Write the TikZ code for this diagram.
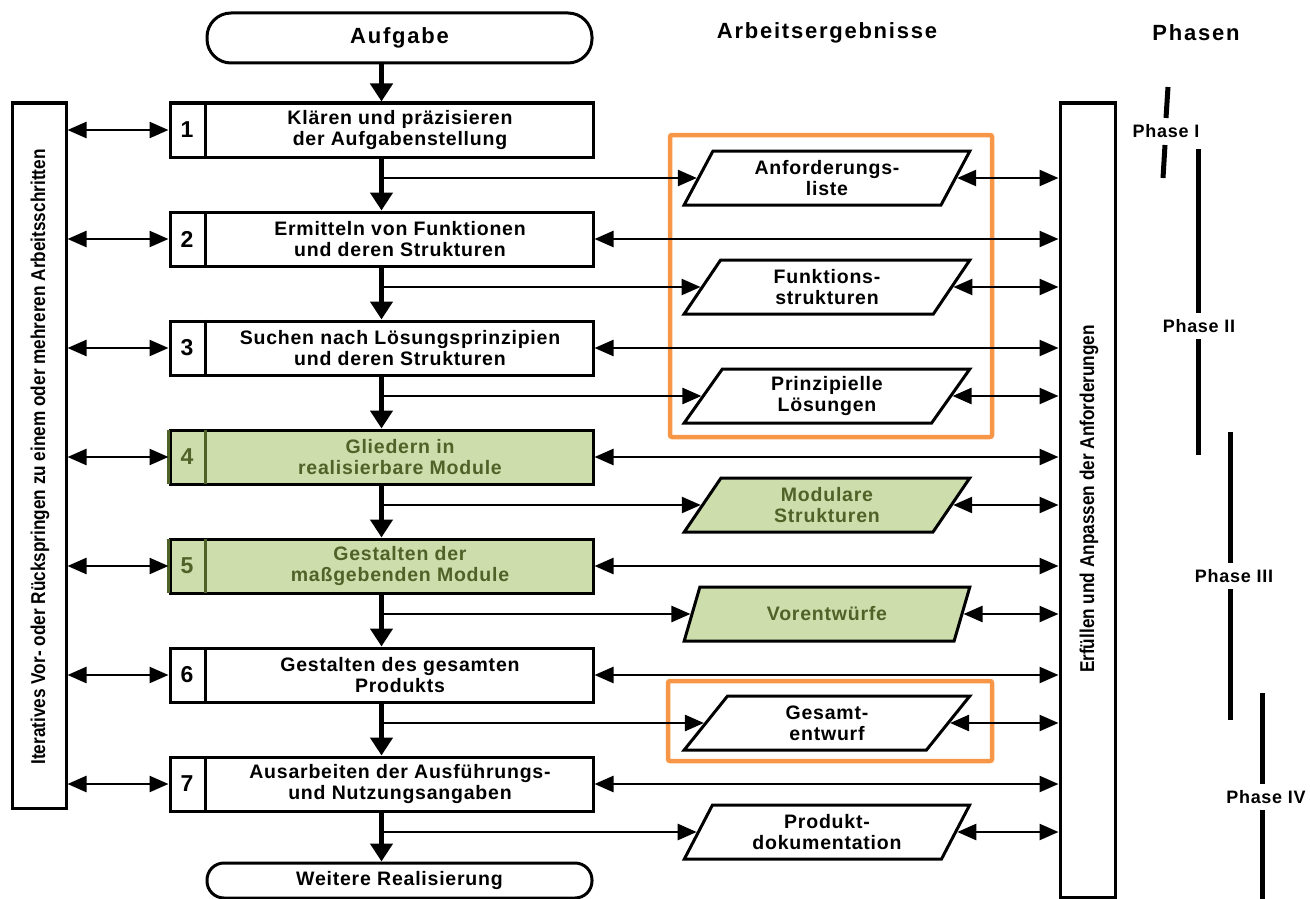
\documentclass[tikz,border=0pt]{standalone}
\usepackage{fontspec}
\setmainfont{Liberation Sans}[LetterSpace=4]
\newfontfamily\headfont{Liberation Sans}[LetterSpace=8]
\newfontfamily\narrowfont{Liberation Sans}[FakeStretch=0.86]
\newfontfamily\digitfont{Liberation Sans}
\usetikzlibrary{arrows.meta,shapes.geometric,calc}

\definecolor{modgreen}{HTML}{CDDDAC}
\definecolor{modtext}{HTML}{4F6228}
\definecolor{frameorange}{HTML}{F79646}

\tikzset{
  x=1pt, y=-1pt,
  stepbox/.style={draw, line width=3pt, minimum width=423pt, minimum height=54pt, inner sep=0pt},
  stepnum/.style={font=\digitfont\fontsize{23}{23}\selectfont\bfseries, inner sep=0pt},
  steptext/.style={font=\fontsize{19.5}{21}\selectfont\bfseries, align=center, inner sep=0pt},
  greenbox/.style={fill=modgreen, text=modtext},
  result/.style={trapezium, trapezium left angle=62.6, trapezium right angle=117.4,
    trapezium stretches=true, draw, line width=3pt, minimum width=286pt, minimum height=54pt,
    inner sep=0pt, align=center, font=\fontsize{19.5}{21}\selectfont\bfseries},
  terminal/.style={draw, line width=3pt, minimum width=385pt, rounded corners=#1,
    inner sep=0pt},
  column/.style={draw, line width=3pt, inner sep=0pt},
  sidetext/.style={rotate=90, inner sep=0pt, font=\narrowfont\fontsize{20}{20}\selectfont\bfseries},
  mainarrow/.style={line width=4.5pt, -{Triangle[length=18pt,width=22pt]}},
  thinarrow/.style={line width=2.5pt, -{Triangle[length=19pt,width=16pt]}},
  dblarrow/.style={line width=2.5pt, {Triangle[length=19pt,width=16pt]}-{Triangle[length=19pt,width=16pt]}},
  phaseline/.style={line width=5pt},
  phaselabel/.style={font=\fontsize{18}{18}\selectfont\bfseries, inner sep=0pt},
  header/.style={font=\headfont\fontsize{22}{22}\selectfont\bfseries, inner sep=0pt},
  orangeframe/.style={draw=frameorange, line width=4.5pt, rounded corners=2pt},
}

\begin{document}
\begin{tikzpicture}
\useasboundingbox (0,0) rectangle (1310,899);

% headers
\node[terminal=24pt, minimum height=50pt, font=\headfont\fontsize{22}{22}\selectfont\bfseries] (aufgabe) at (399.5,38) {Aufgabe};
\node[header] (hres) at (827,33) {Arbeitsergebnisse};
\node[header] (hphase) at (1196,33) {Phasen};

% side columns
\node[column, minimum width=54pt, minimum height=705pt] (iter) at (39,455.5) {};
\node[sidetext] (itertext) at (40,457)
  {Iteratives Vor- oder Rückspringen zu einem oder mehreren Arbeitsschritten};
\node[column, minimum width=55pt, minimum height=794pt] (req) at (1087.5,500) {};
\node[sidetext] (reqtext) at (1089,499)
  {Erfüllen und Anpassen der Anforderungen};

% working steps
\foreach \i/\txt/\sty in {
  1/{Klären und präzisieren\\der Aufgabenstellung}/,
  2/{Ermitteln von Funktionen\\und deren Strukturen}/,
  3/{Suchen nach Lösungsprinzipien\\und deren Strukturen}/,
  4/{Gliedern in\\realisierbare Module}/greenbox,
  5/{Gestalten der\\maßgebenden Module}/greenbox,
  6/{Gestalten des gesamten\\Produkts}/,
  7/{Ausarbeiten der Ausführungs-\\und Nutzungsangaben}/}{
  \node[stepbox, \sty] (b\i) at (381.5,{130+(\i-1)*109}) {};
  \node[stepnum, \sty, fill=none] (n\i) at ($(b\i.west)+(18.5,0)$) {\i};
  \node[steptext, \sty, fill=none] (t\i) at ($(b\i.center)+(18.5,0)$) {\txt};
}
\foreach \i in {1,2,3,6,7}{
  \draw[line width=3pt] ($(b\i.north west)+(37,0)$) -- ($(b\i.south west)+(37,0)$);
}
\foreach \i in {4,5}{
  \draw[line width=3pt, modtext] ($(b\i.north west)+(37,1.5)$) -- ($(b\i.south west)+(37,-1.5)$);
  \draw[line width=3pt, modtext] ($(b\i.north west)+(0,1.5)$) -- ($(b\i.south west)+(0,-1.5)$);
}
\node[terminal=17pt, minimum height=35pt, font=\fontsize{19.5}{20}\selectfont\bfseries] (weiter) at (399.5,880.5) {Weitere Realisierung};

% working results
\foreach \i/\txt/\sty in {
  1/{Anforderungs-\\liste}/,
  2/{Funktions-\\strukturen}/,
  3/{Prinzipielle\\Lösungen}/,
  4/{Modulare\\Strukturen}/greenbox,
  5/{Vorentwürfe}/greenbox,
  6/{Gesamt-\\entwurf}/,
  7/{Produkt-\\dokumentation}/}{
  \node[result, \sty] (r\i) at (827,{178+(\i-1)*109}) {\txt};
}

% orange frames around selected results
\draw[orangeframe] (670,135) rectangle (992,437);
\draw[orangeframe] (668,681) rectangle (992,761);

% main flow
\draw[mainarrow] (aufgabe.south -| b1.north) -- (b1.north);
\foreach \i/\j in {1/2,2/3,3/4,4/5,5/6,6/7}{
  \draw[mainarrow] (b\i.south) -- (b\j.north);
}
\draw[mainarrow] (b7.south) -- (b7.south |- weiter.north);

% branches to results and links to the columns
\foreach \i in {1,...,7}{
  \draw[thinarrow] (b\i.south |- r\i.west) -- (r\i.west);
  \draw[dblarrow] (r\i.east) -- (r\i.east -| req.west);
  \draw[dblarrow] (iter.east |- b\i.west) -- (b\i.west);
}
\foreach \i in {2,...,7}{
  \draw[dblarrow] (b\i.east) -- (b\i.east -| req.west);
}

% phases
\draw[phaseline] (1168,87) -- (1166,118);
\node[phaselabel] (p1) at (1166,131) {Phase I};
\draw[phaseline] (1165,145) -- (1163,178);
\draw[phaseline] (1198,149) -- (1198,313);
\node[phaselabel] (p2) at (1199,326) {Phase II};
\draw[phaseline] (1198,339) -- (1198,455);
\draw[phaseline] (1230,432) -- (1230,563);
\node[phaselabel] (p3) at (1234,576) {Phase III};
\draw[phaseline] (1230,589) -- (1230,720);
\draw[phaseline] (1262,693) -- (1262,784);
\node[phaselabel] (p4) at (1266,797) {Phase IV};
\draw[phaseline] (1262,810) -- (1262,899);
\end{tikzpicture}
\end{document}
